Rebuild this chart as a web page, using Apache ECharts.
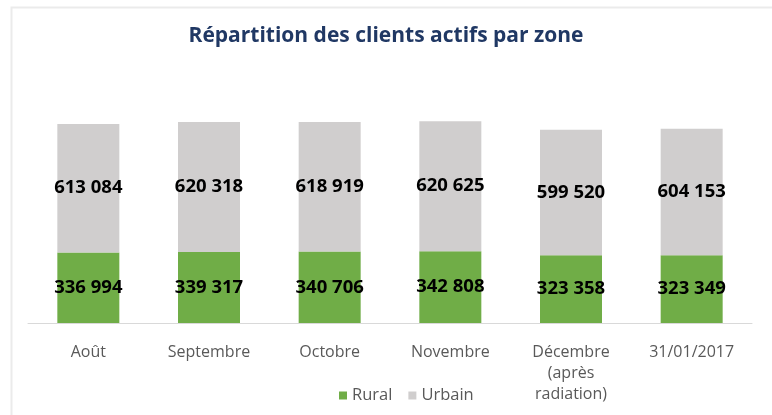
<!DOCTYPE html>
<html>
<head>
<meta charset="utf-8">
<script src="https://cdn.jsdelivr.net/npm/echarts@6/dist/echarts.min.js"></script>
<style>
  html, body { margin: 0; padding: 0; background: #fff; }
  #chart { width: 772px; height: 415px; }
</style>
</head>
<body>
<div id="chart"></div>
<script>
var categories = ['Août', 'Septembre', 'Octobre', 'Novembre', 'Décembre\n(après\nradiation)', '31/01/2017'];
var rural = [336994, 339317, 340706, 342808, 323358, 323349];
var urbain = [613084, 620318, 618919, 620625, 599520, 604153];

function fmt(v) {
  return String(v).replace(/\B(?=(\d{3})+(?!\d))/g, ' ');
}

var labelStyle = {
  show: true,
  position: 'inside',
  color: '#000',
  fontFamily: 'Open Sans',
  fontWeight: 'bold',
  fontSize: 18.5,
  formatter: function (p) { return fmt(p.value); }
};

var chart = echarts.init(document.getElementById('chart'), null, { renderer: 'canvas' });
chart.setOption({
  animation: false,
  // faint frame round the chart area, as in the source slide
  graphic: [{
    type: 'rect',
    left: 9,
    top: 5,
    shape: { width: 800, height: 420 },
    style: { fill: 'none', stroke: '#ebebeb', lineWidth: 2 },
    silent: true
  }],
  title: {
    text: 'Répartition des clients actifs par zone',
    left: 'center',
    top: 21,
    textStyle: {
      color: '#203864',
      fontFamily: 'Open Sans',
      fontWeight: 'bold',
      fontSize: 21
    }
  },
  legend: {
    top: 382,
    left: 334,
    itemWidth: 8,
    itemHeight: 8,
    itemGap: 16,
    icon: 'rect',
    textStyle: { color: '#595959', fontFamily: 'Open Sans', fontSize: 16.5 },
    data: ['Rural', 'Urbain']
  },
  grid: { left: 28, right: 20, top: 113.5, bottom: 92, containLabel: false },
  xAxis: {
    type: 'category',
    data: categories,
    axisLine: { lineStyle: { color: '#d9d9d9', width: 1 } },
    axisTick: { show: false },
    axisLabel: {
      color: '#595959',
      fontFamily: 'Open Sans',
      fontSize: 16,
      lineHeight: 21,
      margin: 19,
      interval: 0
    }
  },
  yAxis: {
    type: 'value',
    min: 0,
    max: 1000000,
    show: false,
    splitLine: { show: false }
  },
  series: [
    {
      name: 'Rural',
      type: 'bar',
      stack: 'total',
      barWidth: 62,
      itemStyle: { color: '#70ad47' },
      label: labelStyle,
      data: rural
    },
    {
      name: 'Urbain',
      type: 'bar',
      stack: 'total',
      barWidth: 62,
      itemStyle: { color: '#d0cece' },
      label: labelStyle,
      data: urbain
    }
  ]
});
</script>
</body>
</html>
